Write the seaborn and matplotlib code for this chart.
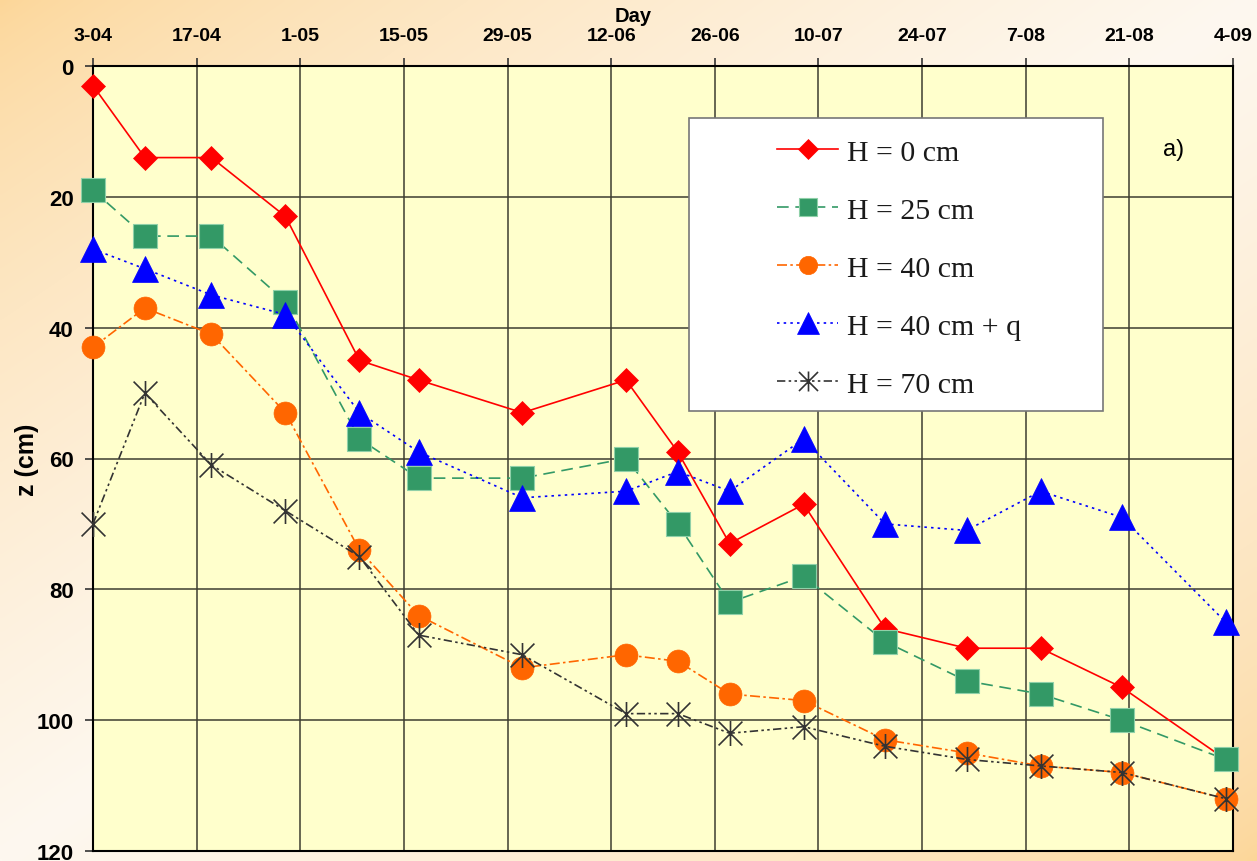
import numpy as np
import matplotlib
matplotlib.use("Agg")
import matplotlib.pyplot as plt
from matplotlib.path import Path
from matplotlib.patches import Rectangle
import seaborn as sns

# days since 3-04
day = [0, 7, 16, 26, 36, 44, 58, 72, 79, 86, 96, 107, 118, 128, 139, 153]
tick_days = [0, 14, 28, 42, 56, 70, 84, 98, 112, 126, 140, 154]
tick_labels = ["3-04", "17-04", "1-05", "15-05", "29-05", "12-06",
               "26-06", "10-07", "24-07", "7-08", "21-08", "4-09"]
depth_ticks = [0, 20, 40, 60, 80, 100, 120]

# depth z (cm) per series
h0 = [3, 14, 14, 23, 45, 48, 53, 48, 59, 73, 67, 86, 89, 89, 95, 106]
h25 = [19, 26, 26, 36, 57, 63, 63, 60, 70, 82, 78, 88, 94, 96, 100, 106]
h40 = [43, 37, 41, 53, 74, 84, 92, 90, 91, 96, 97, 103, 105, 107, 108, 112]
h40q = [28, 31, 35, 38, 53, 59, 66, 65, 62, 65, 57, 70, 71, 65, 69, 85]
h70 = [70, 50, 61, 68, 75, 87, 90, 99, 99, 102, 101, 104, 106, 107, 108, 112]

labels = ["H = 0 cm", "H = 25 cm", "H = 40 cm", "H = 40 cm + q", "H = 70 cm"]

plt.rcParams['font.family'] = ['Liberation Sans', 'DejaVu Sans']

W, H = 1257, 862
fig = plt.figure(figsize=(W / 100, H / 100), dpi=100)

# background gradient (orange corners, pale diagonal)
u = np.linspace(0, 1, 300)[None, :]
v = np.linspace(0, 1, 200)[:, None]
w = 1 - np.abs(u + v - 1)
w = np.clip(w, 0, 1) ** 0.7
orange = np.array([252, 214, 152]) / 255
light = np.array([254, 248, 240]) / 255
img = orange[None, None, :] * (1 - w[..., None]) + light[None, None, :] * w[..., None]
bg = fig.add_axes([0, 0, 1, 1], zorder=-5)
bg.imshow(img, aspect='auto', extent=[0, 1, 0, 1], interpolation='bilinear')
bg.axis('off')

ax = fig.add_axes([93 / W, 1 - 852 / H, (1233 - 93) / W, (852 - 67) / H], zorder=1)
ax.set_facecolor('#FFFFCC')

star = Path([(-1, -1), (1, 1), (-1, 1), (1, -1), (0, -1.05), (0, 1.05)],
            [Path.MOVETO, Path.LINETO, Path.MOVETO, Path.LINETO, Path.MOVETO, Path.LINETO])

styles = [
    dict(y=h0, color='#FF0000', marker='D', markersize=12.5, linestyle='-', mec='#FF0000', mew=0.5),
    dict(y=h25, color='#339966', marker='s', markersize=17, linestyle=(0, (7, 4)), mec='#8fd0a8', mew=0.8),
    dict(y=h40, color='#FF6600', marker='o', markersize=16.5, linestyle=(0, (6, 2, 1.5, 2)), mec='#FF6600', mew=0.5),
    dict(y=h40q, color='#0000FF', marker='^', markersize=19, linestyle=(0, (1.5, 2.5)), mec='#0000FF', mew=0.5),
    dict(y=h70, color='#333333', marker=star, markersize=18, linestyle=(0, (5, 2, 1.5, 2, 1.5, 2)), mec='#333333', mew=1.2),
]

for i, (st, lab) in enumerate(zip(styles, labels)):
    st = dict(st)
    y = st.pop('y')
    sns.lineplot(x=day, y=y, ax=ax, label=lab, legend=False, linewidth=1.2,
                 zorder=3 + i * 0.1, clip_on=False, **st)

ax.set_xlim(0, 154)
ax.set_ylim(120, 0)
ax.xaxis.tick_top()
ax.set_xticks(tick_days, tick_labels)
ax.set_yticks(depth_ticks)
ax.tick_params(axis='x', direction='out', length=6, width=1.2, color='#333333',
               labelsize=14, pad=10)
ax.tick_params(axis='y', direction='out', length=6, width=1.2, color='#333333',
               labelsize=16, pad=8)
for lab in ax.get_xticklabels() + ax.get_yticklabels():
    lab.set_fontweight('bold')
ax.set_xlabel('')
ax.set_ylabel('')
ax.grid(True, color='#3d3d30', linewidth=1.1)
ax.set_axisbelow(True)
for sp in ax.spines.values():
    sp.set_color('black')
    sp.set_linewidth(1.5)

fig.text(633 / W, 1 - 17 / H, 'Day', ha='center', va='center',
         fontsize=14.5, fontweight='bold')
fig.text(27 / W, 1 - 460 / H, 'z (cm)', ha='center', va='center',
         rotation=90, fontsize=18, fontweight='bold')
ax.text(1174 / W, 1 - 150 / H, 'a)', transform=fig.transFigure,
        ha='center', va='center', fontsize=17, zorder=7)

# legend box
box = Rectangle((689 / W, 1 - 412 / H), (1103 - 689) / W, (412 - 119) / H,
                transform=fig.transFigure, facecolor='white', edgecolor='#777777',
                linewidth=1.2, zorder=6, clip_on=False)
ax.add_patch(box)
handles, hlabels = ax.get_legend_handles_labels()
leg = ax.legend(handles, hlabels, loc='upper left',
                bbox_to_anchor=(777 / W, 1 - 140 / H), bbox_transform=fig.transFigure,
                frameon=False, prop={'family': 'Liberation Serif', 'size': 21.5},
                handlelength=2.05, handletextpad=0.28, labelspacing=1.04,
                borderpad=0, borderaxespad=0, markerscale=0.8)
leg.set_zorder(7)
for t in leg.get_texts():
    t.set_color('#1a1a1a')

fig.savefig('out.png', dpi=100)
